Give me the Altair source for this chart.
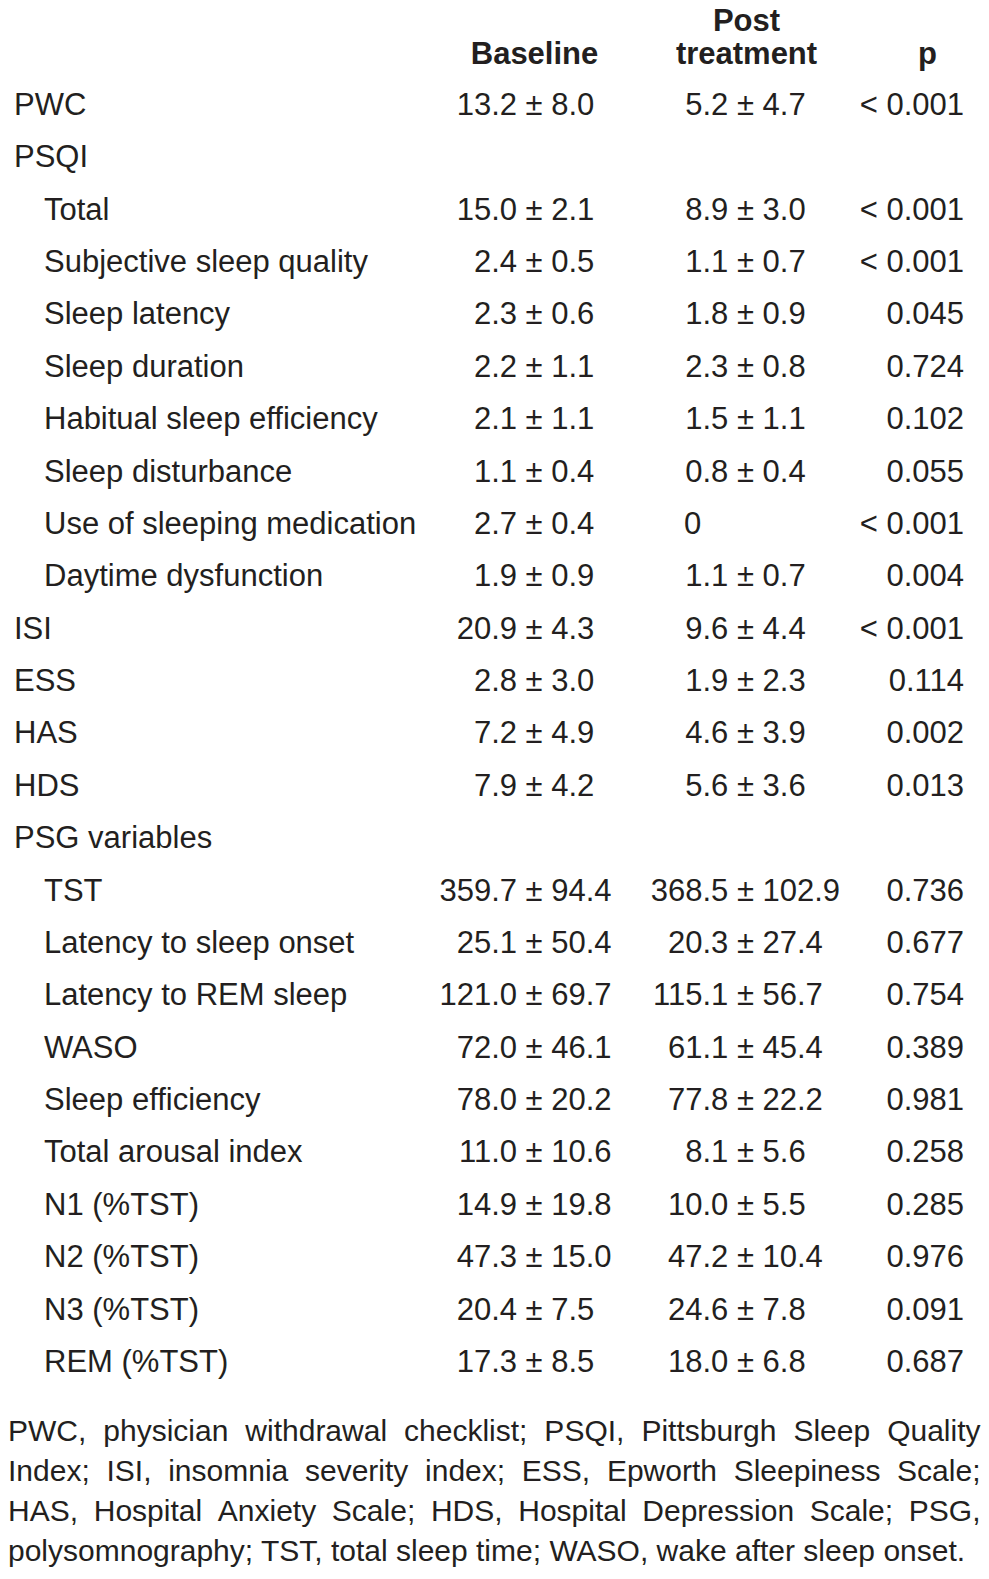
import altair as alt
import pandas as pd

# ---------------- data ----------------
labels = ["PWC", "PSQI", "Total", "Subjective sleep quality", "Sleep latency",
          "Sleep duration", "Habitual sleep efficiency", "Sleep disturbance",
          "Use of sleeping medication", "Daytime dysfunction", "ISI", "ESS",
          "HAS", "HDS", "PSG variables", "TST", "Latency to sleep onset",
          "Latency to REM sleep", "WASO", "Sleep efficiency",
          "Total arousal index", "N1 (%TST)", "N2 (%TST)", "N3 (%TST)",
          "REM (%TST)"]
indent = [0, 0, 1, 1, 1, 1, 1, 1, 1, 1, 0, 0, 0, 0, 0,
          1, 1, 1, 1, 1, 1, 1, 1, 1, 1]
base_mean = ["13.2", "", "15.0", "2.4", "2.3", "2.2", "2.1", "1.1", "2.7", "1.9",
             "20.9", "2.8", "7.2", "7.9", "", "359.7", "25.1", "121.0", "72.0",
             "78.0", "11.0", "14.9", "47.3", "20.4", "17.3"]
base_sd = ["8.0", "", "2.1", "0.5", "0.6", "1.1", "1.1", "0.4", "0.4", "0.9",
           "4.3", "3.0", "4.9", "4.2", "", "94.4", "50.4", "69.7", "46.1",
           "20.2", "10.6", "19.8", "15.0", "7.5", "8.5"]
post_mean = ["5.2", "", "8.9", "1.1", "1.8", "2.3", "1.5", "0.8", "0", "1.1",
             "9.6", "1.9", "4.6", "5.6", "", "368.5", "20.3", "115.1", "61.1",
             "77.8", "8.1", "10.0", "47.2", "24.6", "18.0"]
post_sd = ["4.7", "", "3.0", "0.7", "0.9", "0.8", "1.1", "0.4", "", "0.7",
           "4.4", "2.3", "3.9", "3.6", "", "102.9", "27.4", "56.7", "45.4",
           "22.2", "5.6", "5.5", "10.4", "7.8", "6.8"]
p_values = ["< 0.001", "", "< 0.001", "< 0.001", "0.045", "0.724", "0.102",
            "0.055", "< 0.001", "0.004", "< 0.001", "0.114", "0.002", "0.013",
            "", "0.736", "0.677", "0.754", "0.389", "0.981", "0.258", "0.285",
            "0.976", "0.091", "0.687"]
header_texts = ["Baseline", "Post", "treatment", "p"]
header_cols = ["base", "post", "post", "p"]
header_lines = [1, 0, 1, 1]
footnote_lines = [
    "PWC, physician withdrawal checklist; PSQI, Pittsburgh Sleep Quality",
    "Index; ISI, insomnia severity index; ESS, Epworth Sleepiness Scale;",
    "HAS, Hospital Anxiety Scale; HDS, Hospital Depression Scale; PSG,",
    "polysomnography; TST, total sleep time; WASO, wake after sleep onset.",
]

# ---------------- layout ----------------
W, H = 973, 1559
FONT = "Liberation Sans, Arial, Helvetica, sans-serif"
COLOR = "#231f20"
NUM_SIZE, LAB_SIZE, HEAD_SIZE, FOOT_SIZE = 31, 31, 31, 30
ROW0, ROWH = 107.0, 52.37     # pixel baseline of first row, row pitch
def r_of(px):
    return (px - ROW0) / ROWH
y_dom = [r_of(0), r_of(H)]
HEAD_Y = [22.5, 55.8]         # baselines of the two header lines
FOOT_Y = [1433.0, 1473.0, 1513.0, 1552.5]

X_LAB = [6, 36]
X_BASE_L, X_BASE_R = 509.0, 517.6
X_POST_L, X_POST_R = 720.3, 728.9
X_POST_ONLY = 676
X_P = 956
X_HEAD = {"base": 526.5, "post": 738.5, "p": 919.5}

Y = alt.Y("r:Q", scale=alt.Scale(domain=y_dom, reverse=True, zero=False, nice=False), axis=None)

df = pd.DataFrame({
    "r": list(range(len(labels))),
    "label": labels, "indent": indent,
    "bm": base_mean, "bs": base_sd, "pm": post_mean, "ps": post_sd, "p": p_values,
})
df["br"] = ["± " + s if s else "" for s in base_sd]
df["pr"] = ["± " + s if s else "" for s in post_sd]

def txt(**kw):
    base = dict(font=FONT, baseline="alphabetic", color=COLOR)
    base.update(kw)
    return base

layers = []
for lvl in (0, 1):
    layers.append(alt.Chart(df).transform_filter(alt.datum.indent == lvl)
                  .mark_text(**txt(align="left", fontSize=LAB_SIZE))
                  .encode(y=Y, x=alt.value(X_LAB[lvl]), text="label:N"))
num = dict(fontSize=NUM_SIZE)
layers += [
    alt.Chart(df).transform_filter(alt.datum.bs != "")
      .mark_text(**txt(align="right", **num)).encode(y=Y, x=alt.value(X_BASE_L), text="bm:N"),
    alt.Chart(df).transform_filter(alt.datum.bs != "")
      .mark_text(**txt(align="left", **num)).encode(y=Y, x=alt.value(X_BASE_R), text="br:N"),
    alt.Chart(df).transform_filter(alt.datum.ps != "")
      .mark_text(**txt(align="right", **num)).encode(y=Y, x=alt.value(X_POST_L), text="pm:N"),
    alt.Chart(df).transform_filter(alt.datum.ps != "")
      .mark_text(**txt(align="left", **num)).encode(y=Y, x=alt.value(X_POST_R), text="pr:N"),
    alt.Chart(df).transform_filter((alt.datum.ps == "") & (alt.datum.pm != ""))
      .mark_text(**txt(align="left", **num)).encode(y=Y, x=alt.value(X_POST_ONLY), text="pm:N"),
    alt.Chart(df).transform_filter(alt.datum.p != "")
      .mark_text(**txt(align="right", **num)).encode(y=Y, x=alt.value(X_P), text="p:N"),
]

hdf = pd.DataFrame({
    "text": header_texts,
    "r": [r_of(HEAD_Y[l]) for l in header_lines],
    "hx": [X_HEAD[c] for c in header_cols],
})
XS = alt.X("hx:Q", scale=alt.Scale(domain=[0, W], zero=False, nice=False), axis=None)
layers.append(alt.Chart(hdf).mark_text(**txt(align="center", fontSize=HEAD_SIZE, fontWeight="bold"))
              .encode(y=Y, x=XS, text="text:N"))

# footnote: justified lines (last line natural); widths from Arial / Liberation Sans metrics
AW = {" ": 278, ",": 278, ";": 278, ".": 278, ":": 278, "(": 333, ")": 333, "%": 889}
AW.update({c: 556 for c in "0123456789"})
AW.update(dict(zip("abcdefghijklmnopqrstuvwxyz",
                   [556, 556, 500, 556, 556, 278, 556, 556, 222, 222, 500, 222, 833,
                    556, 556, 556, 556, 333, 500, 278, 556, 500, 722, 500, 500, 500])))
AW.update(dict(zip("ABCDEFGHIJKLMNOPQRSTUVWXYZ",
                   [667, 667, 722, 722, 667, 611, 778, 722, 278, 500, 667, 556, 833,
                    722, 778, 667, 778, 722, 667, 611, 722, 667, 944, 667, 667, 611])))
def wwidth(s):
    return sum(AW.get(c, 556) for c in s) * FOOT_SIZE / 1000.0

FOOT_W = W - 0.5
rows = []
for i, line in enumerate(footnote_lines):
    words = line.split(" ")
    yv = r_of(FOOT_Y[i])
    if i < len(footnote_lines) - 1:
        ws = [wwidth(w) for w in words]
        gap = (FOOT_W - sum(ws)) / (len(words) - 1)
        x = 0.0
        for j, w in enumerate(words):
            last = j == len(words) - 1
            rows.append({"text": w, "r": yv, "hx": FOOT_W if last else x, "last": last})
            x += ws[j] + gap
    else:
        rows.append({"text": line, "r": yv, "hx": 0.0, "last": False})
fdf = pd.DataFrame(rows)
layers.append(alt.Chart(fdf).transform_filter(alt.datum.last == False)
              .mark_text(**txt(align="left", fontSize=FOOT_SIZE))
              .encode(y=Y, x=XS, text="text:N"))
layers.append(alt.Chart(fdf).transform_filter(alt.datum.last == True)
              .mark_text(**txt(align="right", fontSize=FOOT_SIZE))
              .encode(y=Y, x=XS, text="text:N"))

chart = (alt.layer(*layers)
         .properties(width=W, height=H, padding=0, autosize="none", background="white")
         .configure_view(stroke=None))
chart.save("out.html", embed_options={"renderer": "svg", "actions": False})
